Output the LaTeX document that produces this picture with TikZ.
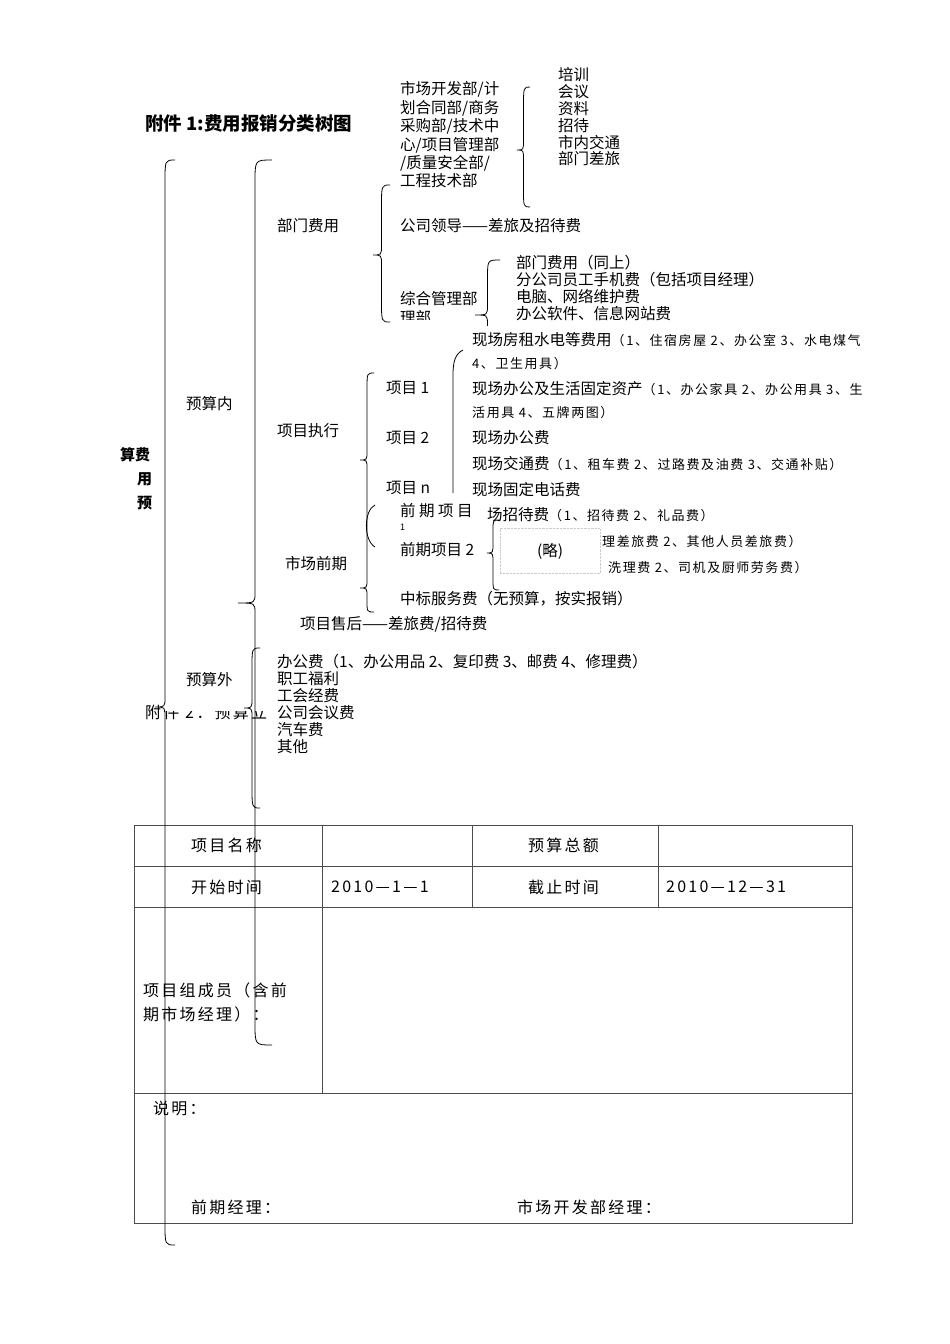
\documentclass[tikz,border=0pt]{standalone}
\usepackage{fontspec}
\setmainfont{Noto Sans CJK SC}
\newfontfamily\smf{Noto Sans CJK SC}[LetterSpace=12]
\newfontfamily\tbf{Noto Sans CJK SC}[LetterSpace=14]
\usetikzlibrary{positioning,calc}
\tikzset{
    txt/.style = {anchor=west, inner sep=0pt, font=\fontsize{15.5}{18}\selectfont},
    lst/.style = {txt, align=left},
    sml/.style = {anchor=west, inner sep=0pt, font=\smf\fontsize{13}{15}\selectfont},
    cell/.style = {anchor=west, inner sep=0pt, align=left, font=\tbf\fontsize{16}{24}\selectfont},
    bld/.style = {anchor=west, inner sep=0pt, font=\fontsize{15}{18}\selectfont\bfseries},
    brline/.style = {draw, line width=0.8pt},
    grid/.style = {draw=black!70, line width=0.9pt},
    mask/.style = {fill=white, draw=none},
}
\newcommand{\sm}{\smf\fontsize{13}{15}\selectfont}
% curly left brace: x, top, tip, bottom, amplitude
\newcommand{\brk}[5]{%
    \pgfmathsetmacro\brH{#5/2}%
    \pgfmathsetmacro\brA{min(22,(#3-#2)/3)}%
    \pgfmathsetmacro\brB{min(22,(#4-#3)/3)}%
    \pgfmathsetmacro\brT{min(10,\brA,\brB)}%
    \draw[brline] (#1,#2) .. controls ({#1-\brH},#2) .. ({#1-\brH},{#2+\brA})
        -- ({#1-\brH},{#3-\brT}) .. controls ({#1-\brH},#3) .. ({#1-#5},#3)
        .. controls ({#1-\brH},#3) .. ({#1-\brH},{#3+\brT})
        -- ({#1-\brH},{#4-\brB}) .. controls ({#1-\brH},#4) .. (#1,#4);
}

\begin{document}
\begin{tikzpicture}[x=1pt, y=-1pt]
    \useasboundingbox[fill=white] (0,0) rectangle (950,1344);

    % title
    \node[bld, font=\fontsize{18.5}{22}\selectfont\bfseries] (title) at (145,124) {附件 1:费用报销分类树图};

    % root
    \node[bld] (root1) at (120,455) {算费};
    \node[bld] (root2) at (137,479) {用};
    \node[bld] (root3) at (137,503) {预};

    % budget levels
    \node[txt] (inb) at (186,404) {预算内};
    \node[txt, font=\tbf\fontsize{16}{18}\selectfont] (att2) at (145,712) {附件 2：预算立};
    \fill[mask] (163,694) rectangle (266,711);
    \node[txt] (outb) at (186,680) {预算外};

    % department costs
    \node[txt] (dept) at (277,226) {部门费用};
    \node[lst, font=\fontsize{15.5}{18.4}\selectfont] (depts) at (400,135)
        {市场开发部/计\\划合同部/商务\\采购部/技术中\\心/项目管理部\\/质量安全部/\\工程技术部};
    \node[lst, font=\fontsize{15.5}{16.8}\selectfont] (items) at (558,117)
        {培训\\会议\\资料\\招待\\市内交通\\部门差旅};
    \node[txt] (lead) at (400,226) {公司领导——差旅及招待费};
    \node[txt] (admin) at (400,299) {综合管理部};
    \node[lst, font=\fontsize{15.5}{16.7}\selectfont] (adminit) at (516,288)
        {部门费用（同上）\\分公司员工手机费（包括项目经理）\\电脑、网络维护费\\办公软件、信息网站费};
    \begin{scope}
        \clip (380,250) rectangle (900,319);
        \node[txt] (admin2) at (400,318) {理部};
    \end{scope}
    \begin{scope}
        \clip (380,250) rectangle (900,325);
        \brk{500}{260}{315}{372}{25}
    \end{scope}

    % project execution
    \node[txt] (exec) at (277,431) {项目执行};
    \node[txt] (p1) at (386,388) {项目 1};
    \node[txt] (p2) at (386,438) {项目 2};
    \node[txt] (pn) at (386,488) {项目 n};
    \node[txt] (c1) at (472,340) {现场房租水电等费用{\sm （1、住宿房屋 2、办公室 3、水电煤气}};
    \node[sml] (c1b) at (472,364) {4、卫生用具）};
    \node[txt] (c2) at (472,389) {现场办公及生活固定资产{\sm （1、办公家具 2、办公用具 3、生}};
    \node[sml] (c2b) at (472,413) {活用具 4、五牌两图）};
    \node[txt] (c3) at (472,438) {现场办公费};
    \node[txt] (c4) at (472,464) {现场交通费{\sm （1、租车费 2、过路费及油费 3、交通补贴）}};
    \node[txt] (c5) at (472,490) {现场固定电话费};

    % market phase
    \node[txt] (mkt) at (285,564) {市场前期};
    \node[txt] (pre1) at (400,511) {前 期 项 目};
    \node[anchor=west, inner sep=0pt, font=\fontsize{9}{10}\selectfont] (pre1n) at (400,527) {1};
    \node[txt] (pre2) at (400,550) {前期项目 2};
    \node[txt] (m1) at (487,515) {场招待费{\sm （1、招待费 2、礼品费）}};
    \node[sml] (m2) at (602,542) {理差旅费 2、其他人员差旅费）};
    \node[sml] (m3) at (608,568) {洗理费 2、司机及厨师劳务费）};
    \node[draw=black!20, densely dotted, fill=white, minimum width=100pt, minimum height=45pt,
          inner sep=0pt, font=\fontsize{15.5}{18}\selectfont] (omit) at (550,551) {(略)};
    \node[txt] (bid) at (400,599) {中标服务费（无预算，按实报销）};
    \node[txt] (after) at (300,624) {项目售后——差旅费/招待费};

    % outside budget
    \node[lst, font=\fontsize{15.5}{16.9}\selectfont] (outit) at (277,704)
        {办公费（1、办公用品 2、复印费 3、邮费 4、修理费）\\职工福利\\工会经费\\公司会议费\\汽车费\\其他};

    % table
    \draw[grid] (134,825) rectangle (852,1223);
    \draw[grid] (134,866) -- (852,866);
    \draw[grid] (134,907) -- (852,907);
    \draw[grid] (134,1093) -- (852,1093);
    \draw[grid] (322,825) -- (322,1093);
    \draw[grid] (472,825) -- (472,907);
    \draw[grid] (658,825) -- (658,907);
    \node[cell] (tname) at (191,845) {项目名称};
    \node[cell] (tsum) at (528,845) {预算总额};
    \node[cell] (tstart) at (191,887) {开始时间};
    \node[cell] (tstartv) at (331,887) {2010—1—1};
    \node[cell] (tend) at (528,887) {截止时间};
    \node[cell] (tendv) at (666,887) {2010—12—31};
    \node[cell] (tmem) at (143,1002) {项目组成员（含前\\期市场经理）：};
    \node[cell] (tnote) at (153,1108) {说明：};
    \node[cell] (tmgr) at (191,1207) {前期经理：};
    \node[cell] (tdev) at (517,1207) {市场开发部经理：};

    % braces
    \brk{175}{160}{707}{1245}{20}
    \brk{272}{160}{603}{1045}{34}
    \brk{260}{648}{708}{808}{16}
    \brk{390}{185}{255}{322}{17}
    \brk{530}{87}{150}{207}{13}
    \brk{499}{520}{553}{590}{12}
    \draw[brline] (374,373) .. controls (367,373) .. (367,390) -- (367,451)
        .. controls (367,460) .. (360,460) .. controls (367,460) .. (367,469) -- (367,579)
        .. controls (367,588) .. (360,588) .. controls (367,588) .. (367,597) -- (367,600)
        .. controls (367,612) .. (374,612);
    \draw[brline] (375,505) .. controls (364,510) and (363,540) .. (375,547);
    \draw[brline] (463,350) .. controls (455,354) and (453,362) .. (453,375) -- (453,493);
\end{tikzpicture}
\end{document}
